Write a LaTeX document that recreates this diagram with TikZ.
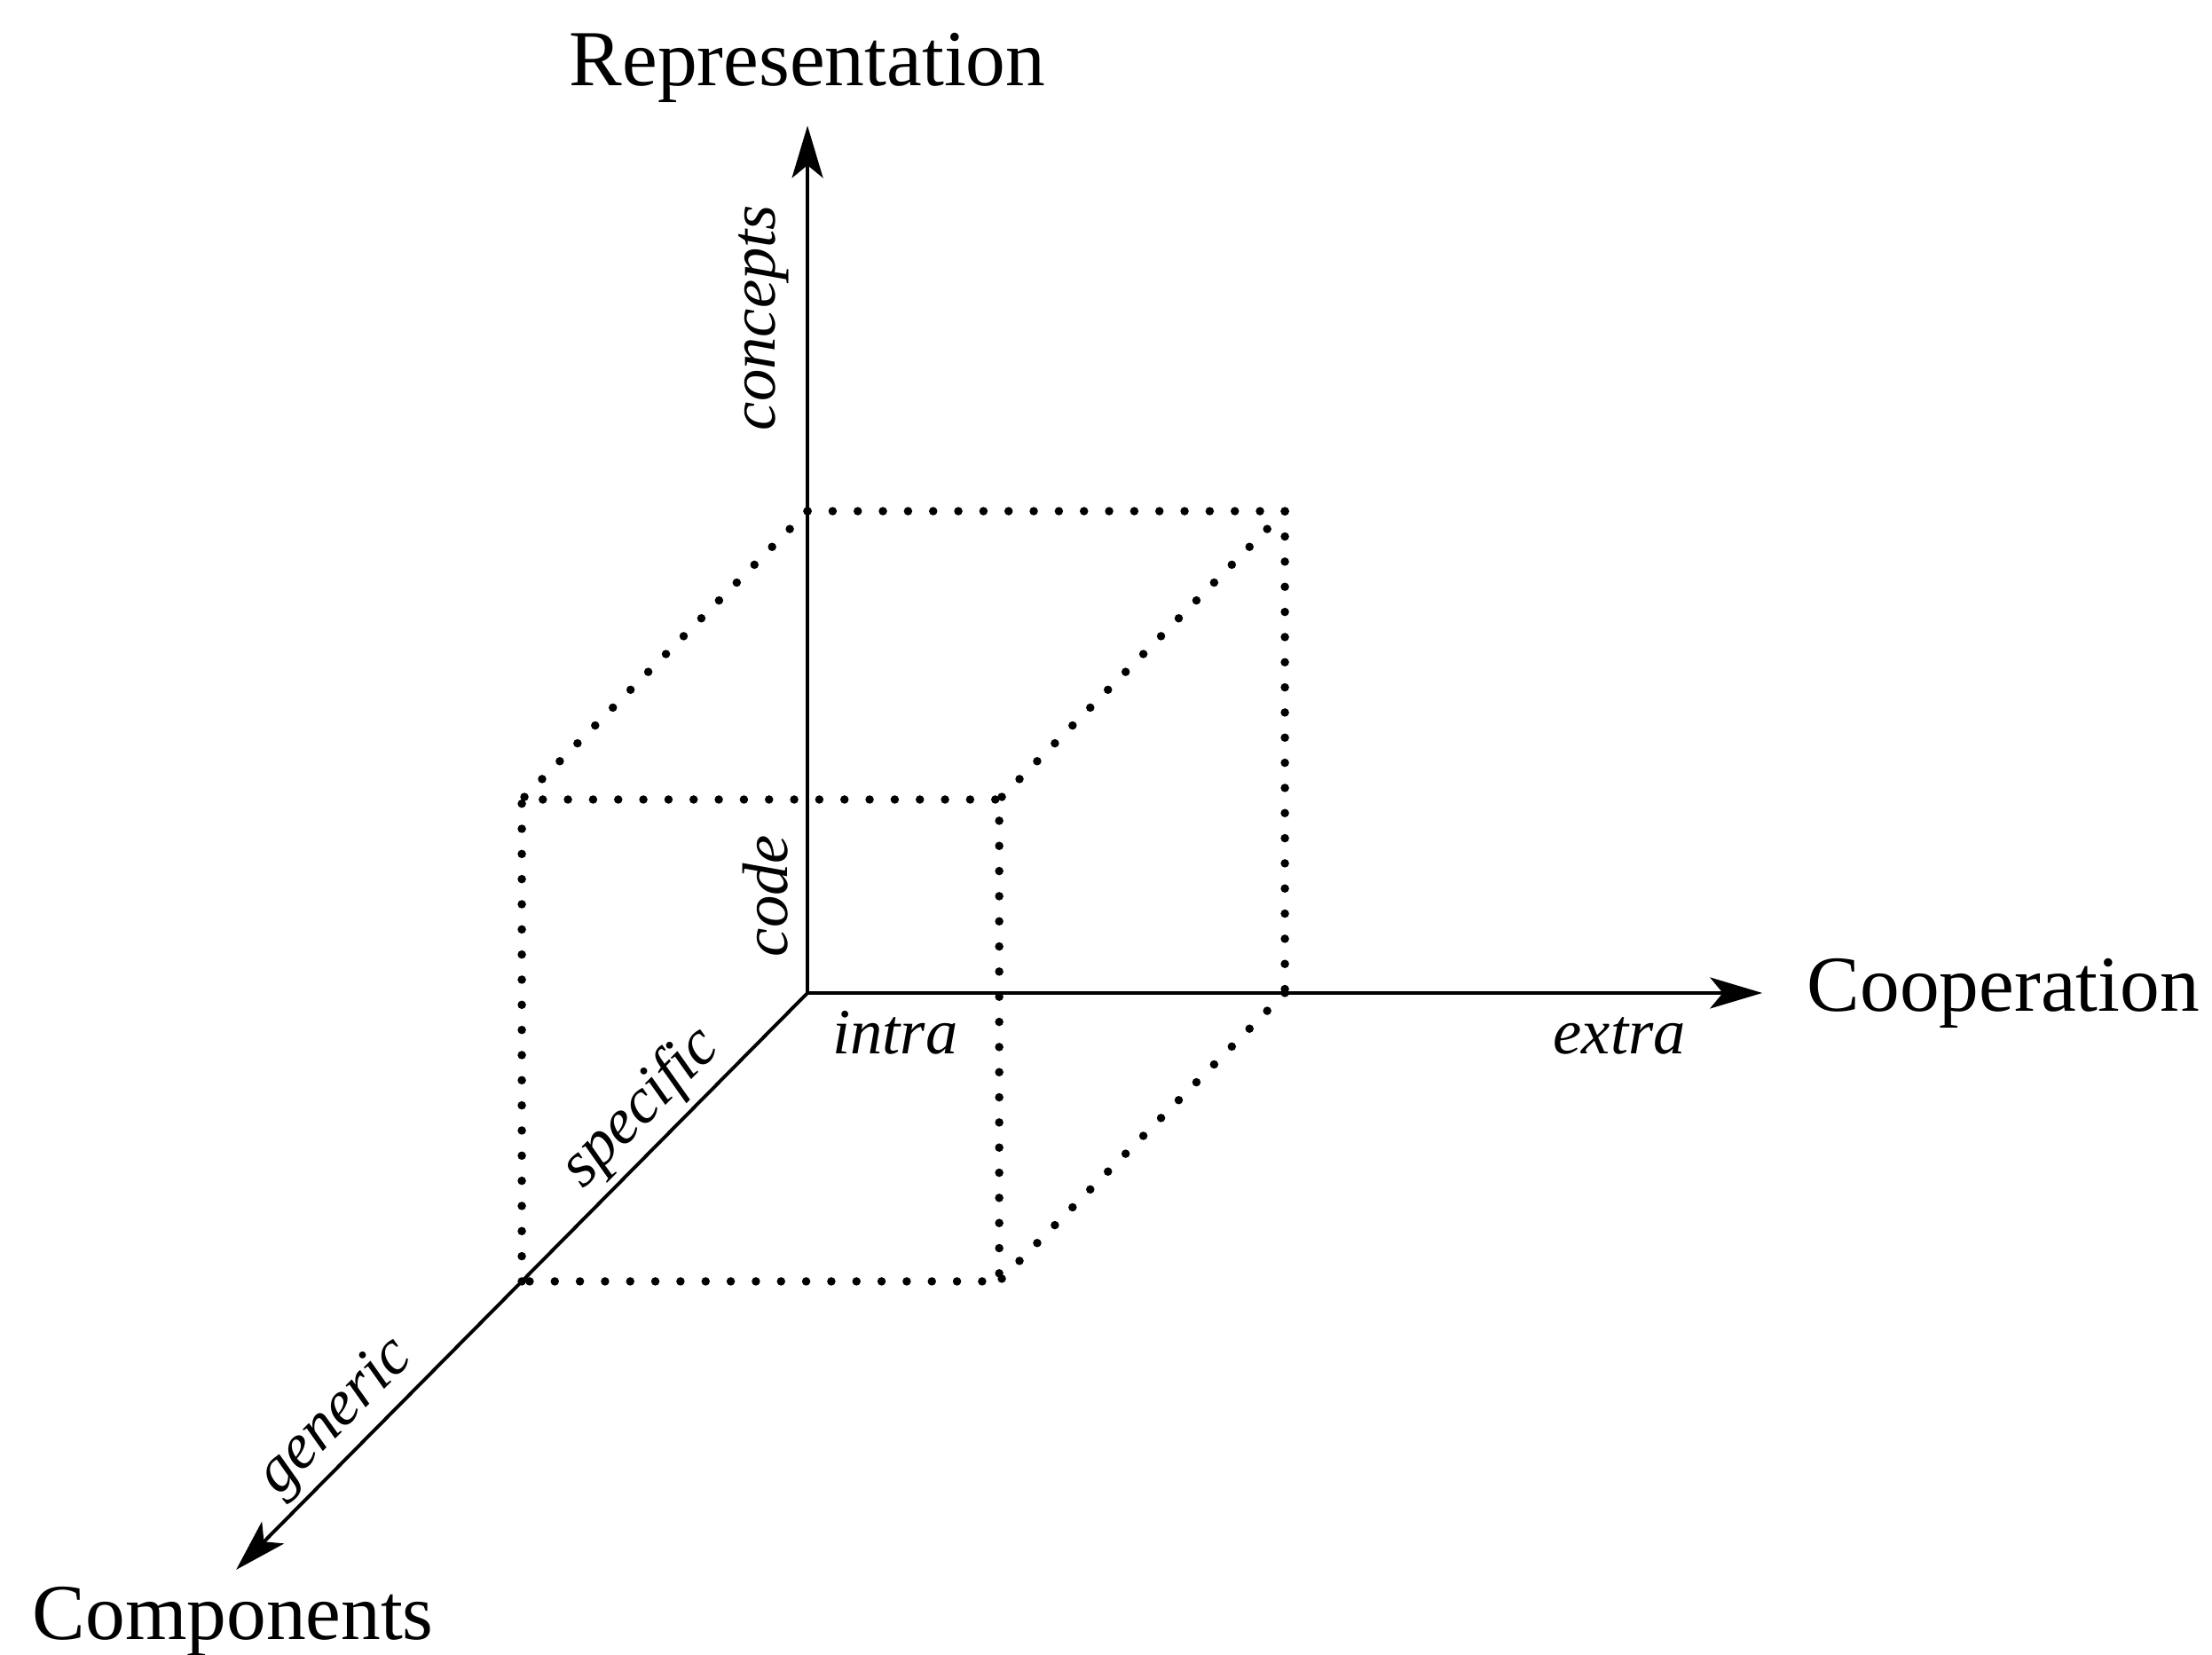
\documentclass[tikz,border=0pt]{standalone}
\usepackage{fontspec}
\setmainfont{Liberation Serif}
\usetikzlibrary{arrows.meta}

\tikzstyle{axis}=[line width=0.7pt, -{Stealth[length=0.37cm, width=0.22cm, inset=0.09cm]}]
\tikzstyle{hidden}=[line width=1.7pt, line cap=round, dash pattern=on 0pt off 5.07pt]
\tikzstyle{dimlabel}=[font=\fontsize{16}{19}\selectfont, inner sep=0]
\tikzstyle{vallabel}=[font=\fontsize{13}{15}\selectfont\itshape, inner sep=0]

\begin{document}
\begin{tikzpicture}[x={(3.384cm,0)}, y={(0,3.415cm)}, z={(-2.025cm,-2.044cm)}]
  \useasboundingbox (-5.724cm,-4.692cm) rectangle (9.956cm,7.038cm);
  % corners of the box
  \coordinate (O) at (0,0,0);
  \coordinate (B1) at (0,1,0);
  \coordinate (B2) at (1,1,0);
  \coordinate (B3) at (1,0,0);
  \coordinate (F0) at (0,0,1);
  \coordinate (F1) at (0,1,1);
  \coordinate (F2) at (1,1,1);
  \coordinate (F3) at (1,0,1);
  % axis ends
  \coordinate (reptip) at (0,1.8,0);
  \coordinate (cooptip) at (2,0,0);
  \coordinate (comptip) at (0,0,2);

  \draw[hidden] (F0) -- (F1) -- (F2) -- (F3) -- cycle;
  \draw[hidden] (B1) -- (B2) -- (B3);
  \draw[hidden] (B1) -- (F1);
  \draw[hidden] (B2) -- (F2);
  \draw[hidden] (B3) -- (F3);

  \draw[axis] (O) -- (reptip);
  \draw[axis] (O) -- (cooptip);
  \draw[axis] (O) -- (comptip)
    node[vallabel, pos=0.245, sloped, above, inner sep=1.2pt] (specific) {specific}
    node[vallabel, pos=0.78, sloped, above, inner sep=1.2pt] (generic) {generic};

  \node[dimlabel, anchor=base] (rep) at (0cm,6.43cm) {Representation};
  \node[dimlabel, anchor=west] (coop) at (7.08cm,0cm) {Cooperation};
  \node[dimlabel, anchor=base west] (comp) at (-5.50cm,-4.58cm) {Components};

  \node[vallabel, rotate=90, anchor=base west] (concepts) at (-0.23cm,3.98cm) {concepts};
  \node[vallabel, rotate=90, anchor=base west] (code) at (-0.14cm,0.25cm) {code};
  \node[vallabel, anchor=base west] (intra) at (0.17cm,-0.43cm) {intra};
  \node[vallabel, anchor=base west] (extra) at (5.28cm,-0.43cm) {extra};
\end{tikzpicture}
\end{document}
